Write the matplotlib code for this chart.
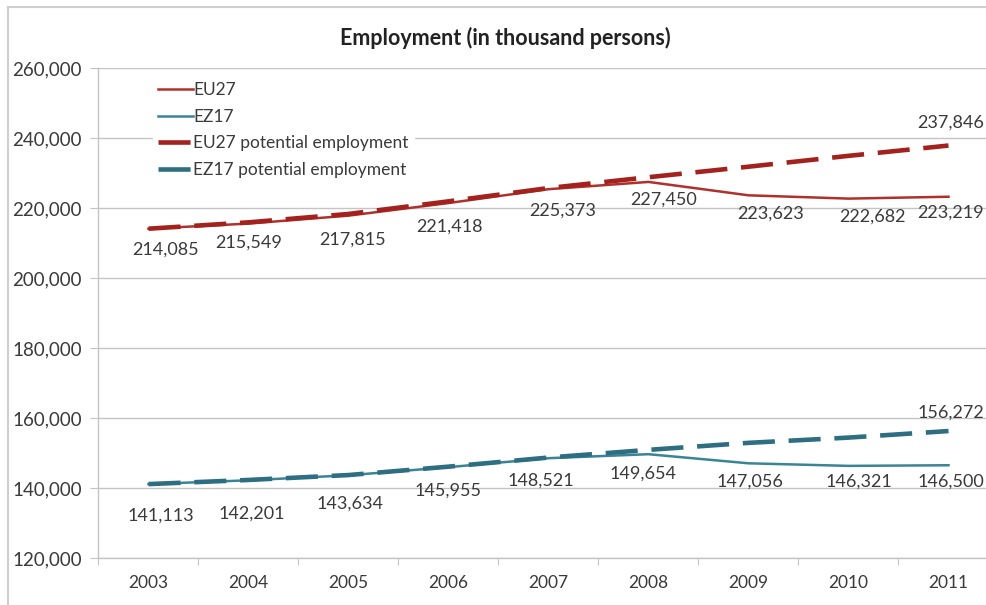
import numpy as np
import matplotlib.pyplot as plt
from matplotlib.patches import Rectangle

years = ['2003', '2004', '2005', '2006', '2007', '2008', '2009', '2010', '2011']
eu27 = [214085, 215549, 217815, 221418, 225373, 227450, 223623, 222682, 223219]
ez17 = [141113, 142201, 143634, 145955, 148521, 149654, 147056, 146321, 146500]
eu27_potential = [214085, 215900, 218300, 221900, 225700, 228800, 231800, 234900, 237846]
ez17_potential = [141113, 142300, 143700, 146100, 148700, 150900, 152900, 154400, 156272]

# hand-placed label offsets in pixels (dx right, dy up)
eu27_label_dx = [17, 0, 4, 1, 14, 15, 22, 24, 2]
eu27_label_dy = [-21, -19, -24, -24, -21, -18, -18, -18, -16]
ez17_label_dx = [12, 3, 2, 0, -8, -5, 1, 10, 2]
ez17_label_dy = [-32, -33, -28, -23, -22, -19, -18, -16, -16]

RED = '#b0302c'
RED_DARK = '#a3221d'
TEAL = '#3a8497'
TEAL_DARK = '#2e6e82'
TXT = '#3a3a3a'
GRID = '#c4c4c4'
PX = 0.72  # points per pixel at 100 dpi

plt.rcParams['font.family'] = ['Lato', 'DejaVu Sans']

fig = plt.figure(figsize=(9.87, 6.05), dpi=100)
W, H = 987, 605
ax = fig.add_axes([98.5 / W, 1 - 558 / H, 900 / W, 490 / H])

x = np.arange(len(years))
ax.plot(x, eu27, color=RED, lw=1.8, label='EU27', zorder=3)
ax.plot(x, ez17, color=TEAL, lw=1.8, label='EZ17', zorder=3)
ax.plot(x, eu27_potential, color=RED_DARK, lw=3.3, ls=(0, (7, 3)),
        label='EU27 potential employment', zorder=4)
ax.plot(x, ez17_potential, color=TEAL_DARK, lw=3.3, ls=(0, (7, 3)),
        label='EZ17 potential employment', zorder=4)

LBL = 13
for xi, v, dx, dy in zip(x, eu27, eu27_label_dx, eu27_label_dy):
    ax.annotate(f'{v:,}', (xi, v), xytext=(dx * PX, dy * PX), textcoords='offset points',
                ha='center', va='center', fontsize=LBL, color=TXT)
for xi, v, dx, dy in zip(x, ez17, ez17_label_dx, ez17_label_dy):
    ax.annotate(f'{v:,}', (xi, v), xytext=(dx * PX, dy * PX), textcoords='offset points',
                ha='center', va='center', fontsize=LBL, color=TXT)
ax.annotate(f'{eu27_potential[-1]:,}', (x[-1], eu27_potential[-1]), xytext=(2 * PX, 23 * PX),
            textcoords='offset points', ha='center', va='center', fontsize=LBL, color=TXT)
ax.annotate(f'{ez17_potential[-1]:,}', (x[-1], ez17_potential[-1]), xytext=(2 * PX, 18 * PX),
            textcoords='offset points', ha='center', va='center', fontsize=LBL, color=TXT)

ax.set_xlim(-0.5, len(years) - 0.5)
ax.set_ylim(120000, 260000)
ax.set_yticks(np.arange(120000, 260001, 20000))
ax.set_yticklabels([f'{v:,}' for v in range(120000, 260001, 20000)], fontsize=13.5, color=TXT)
ax.set_xticks(np.arange(-0.5, len(years), 1))
ax.set_xticklabels([])
ax.set_xticks(x, minor=True)
ax.set_xticklabels(years, minor=True, fontsize=12.5, color=TXT)
ax.tick_params(axis='x', which='major', length=5, color=GRID, direction='out')
ax.tick_params(axis='x', which='minor', length=0, pad=12)
ax.tick_params(axis='y', length=6, color=GRID, pad=6)

ax.grid(axis='y', color=GRID, lw=1, zorder=0)
for side in ['top', 'right']:
    ax.spines[side].set_visible(False)
for side in ['left', 'bottom']:
    ax.spines[side].set_color(GRID)
    ax.spines[side].set_linewidth(1)

leg = ax.legend(loc='upper left', bbox_to_anchor=(144 / W, 1 - 68 / H),
                bbox_transform=fig.transFigure, frameon=True, fontsize=12.5,
                handlelength=2.0, handletextpad=0.05, labelspacing=0.62,
                borderpad=0.3, labelcolor=TXT)
leg.get_frame().set_facecolor('white')
leg.get_frame().set_edgecolor('white')
leg.get_frame().set_alpha(1)
leg.set_zorder(5)

fig.text(505 / W, 1 - 38 / H, 'Employment (in thousand persons)', ha='center',
         va='center', fontsize=15.5, fontweight='bold', color='#222222')

# outer chart border
fig.patches.append(Rectangle((8 / W, -0.1), 1.2, 1 - 7 / H + 0.1, transform=fig.transFigure,
                             fill=False, edgecolor='#cfcfcf', lw=1.5))

fig.savefig('out.png', dpi=100)
